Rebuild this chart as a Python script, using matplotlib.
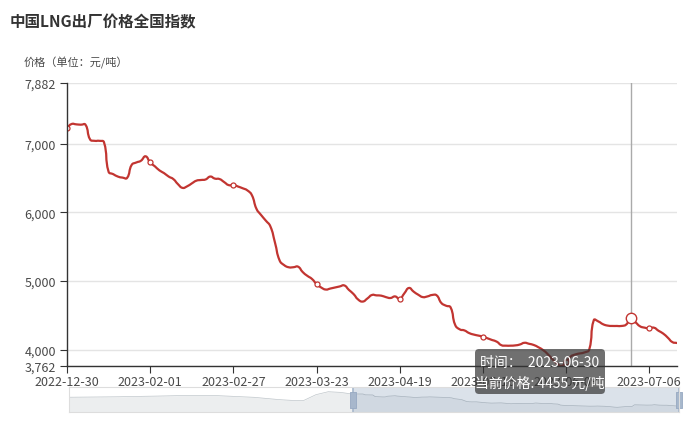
import numpy as np
import pandas as pd
import matplotlib
matplotlib.use('Agg')
import matplotlib.pyplot as plt
from matplotlib.path import Path
from matplotlib.patches import PathPatch, FancyBboxPatch
from matplotlib.transforms import IdentityTransform

plt.rcParams['font.family'] = ['Noto Sans CJK SC', 'DejaVu Sans']

TITLE = '中国LNG出厂价格全国指数'
Y_NAME = '价格（单位：元/吨）'
UNIT = '元/吨'

# trading days shown in the chart (weekdays minus holidays, plus make-up days)
holidays = ['2023-01-02', '2023-01-23', '2023-01-24', '2023-01-25', '2023-01-26',
            '2023-01-27', '2023-04-05', '2023-05-01', '2023-05-02', '2023-05-03',
            '2023-06-22', '2023-06-23']
makeup_days = ['2023-01-28', '2023-04-23', '2023-05-06', '2023-06-25']
dates = pd.bdate_range('2022-12-30', '2023-07-14', freq='C', holidays=holidays)
dates = dates.union(pd.DatetimeIndex(makeup_days))

prices = [
    7230, 7285, 7280, 7275, 7275, 7060, 7040, 7040, 7020, 6590,
    6555, 6520, 6505, 6500, 6690, 6725, 6750, 6815, 6725, 6670,
    6610, 6570, 6520, 6484, 6410, 6355, 6378, 6420, 6460, 6470,
    6478, 6520, 6490, 6484, 6440, 6395, 6397, 6375, 6350, 6320,
    6250, 6050, 5960, 5880, 5796, 5560, 5300, 5230, 5199, 5200,
    5208, 5130, 5075, 5030, 4956, 4905, 4875, 4890, 4905, 4920,
    4935, 4870, 4810, 4730, 4700, 4745, 4796, 4790, 4786, 4765,
    4752, 4775, 4738, 4820, 4898, 4845, 4800, 4765, 4775, 4796,
    4790, 4680, 4640, 4616, 4360, 4295, 4280, 4242, 4220, 4205,
    4189, 4165, 4140, 4116, 4065, 4058, 4058, 4062, 4075, 4100,
    4085, 4068, 4035, 3995, 3937, 3865, 3800, 3762, 3820, 3900,
    3930, 3945, 3960, 4000, 4430, 4410, 4370, 4350, 4345, 4345,
    4345, 4365, 4455, 4400, 4340, 4320, 4311, 4320, 4275, 4235,
    4175, 4110, 4097,
]

# earlier (weekly) values only visible as the shadow of the zoom slider
hist_prices = [6420, 6450, 6480, 6520, 6550, 6600, 6650, 6720, 6800, 6860,
               6880, 6870, 6850, 6700, 6550, 6400, 6100, 5800, 5600, 5560,
               7100, 7882, 7700]
HIST_STEP = 5
HIST_LEN = 115

y_ticks = [3762, 4000, 5000, 6000, 7000, 7882]
label_every = 18
hover_idx = 122

RED = '#c23531'
TXT = '#4a4a4a'


def smooth_path(xs, ys, sx, sy, k=0.5):
    # echarts-like bezier smoothing, computed in pixel space
    p = np.column_stack([np.asarray(xs, float) * sx, np.asarray(ys, float) * sy])
    n = len(p)
    cin, cout = [], []
    for i in range(n):
        a, b = p[max(i - 1, 0)], p[min(i + 1, n - 1)]
        v = (b - a) * k
        d0 = np.hypot(*(p[i] - a))
        d1 = np.hypot(*(b - p[i]))
        s = d0 + d1
        r0, r1 = (d0 / s, d1 / s) if s > 0 else (0.5, 0.5)
        cin.append(p[i] - v * r0)
        cout.append(p[i] + v * r1)
    verts = [p[0]]
    codes = [Path.MOVETO]
    for i in range(n - 1):
        verts += [cout[i], cin[i + 1], p[i + 1]]
        codes += [Path.CURVE4] * 3
    verts = np.array(verts) / [sx, sy]
    return Path(verts, codes)


fig = plt.figure(figsize=(6.9, 4.39), dpi=100)
ax = fig.add_axes([67 / 690, 1 - 367 / 439, 610 / 690, 283 / 439])

n = len(prices)
x = np.arange(n)
ax.set_xlim(0, n - 1)
ax.set_ylim(y_ticks[0], y_ticks[-1])

sx = 610 / (n - 1)
sy = 283 / (y_ticks[-1] - y_ticks[0])
line = PathPatch(smooth_path(x, prices, sx, sy), fill=False, edgecolor=RED,
                 lw=1.6, joinstyle='round', capstyle='round', zorder=3)
ax.add_patch(line)

tick_idx = list(range(0, n, label_every))
ax.plot(tick_idx, [prices[i] for i in tick_idx], ls='none', marker='o', ms=3.6,
        mfc='white', mec=RED, mew=0.9, zorder=4)

# axis pointer + emphasised point
ax.axvline(hover_idx, color='#aaaaaa', lw=1, zorder=2)
ax.plot([hover_idx], [prices[hover_idx]], marker='o', ms=7.5, mfc='white',
        mec=RED, mew=1, zorder=5)

ax.set_yticks(y_ticks)
ax.set_yticklabels([f'{v:,}' for v in y_ticks])
ax.set_xticks(tick_idx)
ax.set_xticklabels([dates[i].strftime('%Y-%m-%d') for i in tick_idx])
ax.grid(axis='y', color='#e4e4e4', lw=1)
ax.set_axisbelow(True)
for s in ['top', 'right']:
    ax.spines[s].set_visible(False)
for s in ['left', 'bottom']:
    ax.spines[s].set_color('#333333')
    ax.spines[s].set_linewidth(1)
    ax.spines[s].set_zorder(6)
ax.tick_params(axis='y', length=5, color='#333333', labelcolor=TXT,
               labelsize=9, pad=3)
ax.tick_params(axis='x', length=5, color='#333333', labelcolor=TXT,
               labelsize=9, pad=1.5)

fig.text(10 / 690, 1 - 22 / 439, TITLE, fontsize=11.2, fontweight='bold',
         color='#333333', va='center', ha='left')
fig.text(24 / 690, 1 - 63 / 439, Y_NAME, fontsize=8, color=TXT,
         va='center', ha='left')

# zoom slider
sl = fig.add_axes([69 / 690, 1 - 413 / 439, 610 / 690, 25 / 439])
hx = np.arange(len(hist_prices)) * HIST_STEP
mx = HIST_LEN + x
all_x = np.concatenate([hx, mx])
all_y = np.concatenate([hist_prices, prices])
lo_d, hi_d = min(all_y), max(all_y)
pad = (hi_d - lo_d) * 0.3
lo, hi = lo_d - pad, hi_d + pad
sl.set_xlim(0, all_x[-1])
sl.set_ylim(lo, hi)
sl.fill_between(all_x, all_y, lo, color='#2f4554', alpha=0.09, lw=0)
sl.plot(all_x, all_y, color='#2f4554', alpha=0.3, lw=0.5)
sl.axvspan(HIST_LEN, all_x[-1], color='#a7b7cc', alpha=0.4, lw=0)
for hxp in [HIST_LEN, all_x[-1]]:
    sl.axvline(hxp, color='#a7b7cc', lw=1.2)
    sl.plot([hxp], [(lo + hi) / 2], ls='none',
            marker=[(-3, -7), (3, -7), (3, 7), (-3, 7), (-3, -7)],
            ms=11, mfc='#a7b7cc', mec='#97a9c2', mew=0.6, clip_on=False)
sl.set_xticks([])
sl.set_yticks([])
for s in sl.spines.values():
    s.set_color('#dddddd')

# tooltip
tip = FancyBboxPatch((475, 439 - 395), 130, 45,
                     boxstyle='round,pad=0,rounding_size=4',
                     transform=IdentityTransform(), fc=(0.2, 0.2, 0.2, 0.7),
                     ec='none', zorder=10)
fig.add_artist(tip)
fig.text(540 / 690, 1 - 363 / 439,
         '时间：  ' + dates[hover_idx].strftime('%Y-%m-%d'),
         color='white', fontsize=10, ha='center', va='center', zorder=11)
fig.text(540 / 690, 1 - 383 / 439,
         f'当前价格: {prices[hover_idx]} {UNIT}',
         color='white', fontsize=10, ha='center', va='center', zorder=11)

fig.savefig('out.png', dpi=100)
